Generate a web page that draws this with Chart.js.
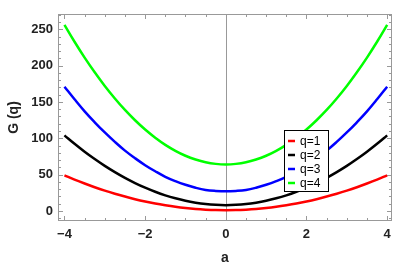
<!DOCTYPE html>
<html>
<head>
<meta charset="utf-8">
<script src="https://cdn.jsdelivr.net/npm/chart.js@4.4.0/dist/chart.umd.min.js"></script>
<style>
  html, body { margin: 0; padding: 0; background: #fff; }
  #wrap { width: 406px; height: 273px; }
</style>
</head>
<body>
<div id="wrap"><canvas id="chart" width="406" height="273"></canvas></div>
<script>
// values
const aValues = [-4, -3.75, -3.5, -3.25, -3, -2.75, -2.5, -2.25, -2, -1.75, -1.5, -1.25, -1, -0.75, -0.5, -0.25, 0,
  0.25, 0.5, 0.75, 1, 1.25, 1.5, 1.75, 2, 2.25, 2.5, 2.75, 3, 3.25, 3.5, 3.75, 4];
const q1 = [49, 43.2, 37.8, 32.7, 28, 23.7, 19.8, 16.2, 13, 10.2, 7.8, 5.7, 4, 2.7, 1.8, 1.2, 1,
  1.2, 1.8, 2.7, 4, 5.7, 7.8, 10.2, 13, 16.2, 19.8, 23.7, 28, 32.7, 37.8, 43.2, 49];
const q2 = [104, 92.4, 81.5, 71.4, 62, 53.4, 45.5, 38.4, 32, 26.4, 21.5, 17.4, 14, 11.4, 9.5, 8.4, 8,
  8.4, 9.5, 11.4, 14, 17.4, 21.5, 26.4, 32, 38.4, 45.5, 53.4, 62, 71.4, 81.5, 92.4, 104];
const q3 = [171, 153.6, 137, 122, 108, 95, 83, 72.6, 63, 54.6, 47, 41, 36, 32, 29, 27.6, 27,
  27.6, 29, 32, 36, 41, 47, 54.6, 63, 72.6, 83, 95, 108, 122, 137, 153.6, 171];
const q4 = [256, 232.8, 211, 190.8, 172, 154.8, 139, 124.8, 112, 100.8, 91, 82.8, 76, 70.8, 67, 64.8, 64,
  64.8, 67, 70.8, 76, 82.8, 91, 100.8, 112, 124.8, 139, 154.8, 172, 190.8, 211, 232.8, 256];
const seriesNames = ['q=1', 'q=2', 'q=3', 'q=4'];
const seriesColors = ['#ff0000', '#000000', '#0000ff', '#00ff00'];
const xTicks = [-4, -2, 0, 2, 4];
const yTicks = [0, 50, 100, 150, 200, 250];

const toPoints = vals => vals.map((v, i) => ({ x: aValues[i], y: v }));
const fmt = v => (v < 0 ? '\u2212' + Math.abs(v) : String(v));
const boldFont = size => ({ size: size, weight: 'bold', family: '"Liberation Sans", Arial, sans-serif' });

// frame with inward ticks on all sides, plus the a=0 axis line
const framePlugin = {
  id: 'frame',
  beforeDatasetsDraw(chart) {
    const { ctx, chartArea: ca, scales: { x, y } } = chart;
    ctx.save();
    ctx.strokeStyle = '#999';
    ctx.lineWidth = 1;
    // vertical axis at a = 0
    const x0 = Math.round(x.getPixelForValue(0)) + 0.5;
    ctx.beginPath();
    ctx.moveTo(x0, ca.top);
    ctx.lineTo(x0, ca.bottom);
    ctx.stroke();
    ctx.strokeRect(ca.left + 0.5, ca.top + 0.5, ca.right - ca.left - 1, ca.bottom - ca.top - 1);
    ctx.beginPath();
    for (let v = -4; v <= 4.001; v += 0.5) {
      const px = Math.round(x.getPixelForValue(v)) + 0.5;
      const len = Math.abs(v % 2) < 0.01 ? 5 : 3;
      ctx.moveTo(px, ca.bottom); ctx.lineTo(px, ca.bottom - len);
      ctx.moveTo(px, ca.top); ctx.lineTo(px, ca.top + len);
    }
    for (let v = -10; v <= 270; v += 10) {
      const py = Math.round(y.getPixelForValue(v)) + 0.5;
      if (py < ca.top || py > ca.bottom) continue;
      const len = v % 50 === 0 ? 5 : 3;
      ctx.moveTo(ca.left, py); ctx.lineTo(ca.left + len, py);
      ctx.moveTo(ca.right, py); ctx.lineTo(ca.right - len, py);
    }
    ctx.stroke();
    ctx.restore();
  },
  afterDraw(chart) {
    // boxed legend inside the plot
    const { ctx } = chart;
    const bx = 284.5, by = 130.5, bw = 44, bh = 61;
    ctx.save();
    ctx.fillStyle = '#fff';
    ctx.fillRect(bx, by, bw, bh);
    ctx.strokeStyle = '#000';
    ctx.lineWidth = 1;
    ctx.strokeRect(bx, by, bw, bh);
    ctx.font = '12px "Liberation Sans", Arial, sans-serif';
    ctx.textBaseline = 'middle';
    chart.data.datasets.forEach((ds, i) => {
      const cy = 141 + i * 14;
      ctx.strokeStyle = ds.borderColor;
      ctx.lineWidth = 2.5;
      ctx.beginPath();
      ctx.moveTo(288, cy); ctx.lineTo(295, cy);
      ctx.stroke();
      ctx.fillStyle = '#000';
      ctx.fillText(ds.label, 300, cy + 1);
    });
    ctx.restore();
  }
};

new Chart(document.getElementById('chart'), {
  type: 'line',
  data: {
    datasets: [q1, q2, q3, q4].map((vals, i) => ({
      label: seriesNames[i],
      data: toPoints(vals),
      borderColor: seriesColors[i],
      borderWidth: 2.5,
      pointRadius: 0,
      fill: false,
      tension: 0.4
    }))
  },
  options: {
    responsive: false,
    animation: false,
    layout: { padding: { left: 0, right: 14, top: 14, bottom: 0 } },
    plugins: { legend: { display: false }, tooltip: { enabled: false } },
    scales: {
      x: {
        type: 'linear',
        min: -4.16,
        max: 4.12,
        afterBuildTicks: s => { s.ticks = xTicks.map(v => ({ value: v })); },
        afterFit: s => { s.height = 52; },
        grid: { display: false, drawTicks: false },
        border: { display: false },
        ticks: { padding: 6, color: '#222', font: boldFont(13), callback: v => fmt(v) },
        title: {
          display: true,
          text: 'a',
          color: '#222',
          padding: { top: 0, bottom: 6 },
          font: boldFont(14)
        }
      },
      y: {
        min: -13.8,
        max: 271,
        afterBuildTicks: s => { s.ticks = yTicks.map(v => ({ value: v })); },
        afterFit: s => { s.width = 58; },
        grid: { display: false, drawTicks: false },
        border: { display: false },
        ticks: { padding: 5, color: '#222', font: boldFont(13), callback: v => fmt(v) },
        title: {
          display: true,
          text: 'G (q)',
          color: '#222',
          padding: { top: 6, bottom: 0 },
          font: boldFont(14)
        }
      }
    }
  },
  plugins: [framePlugin]
});
</script>
</body>
</html>
